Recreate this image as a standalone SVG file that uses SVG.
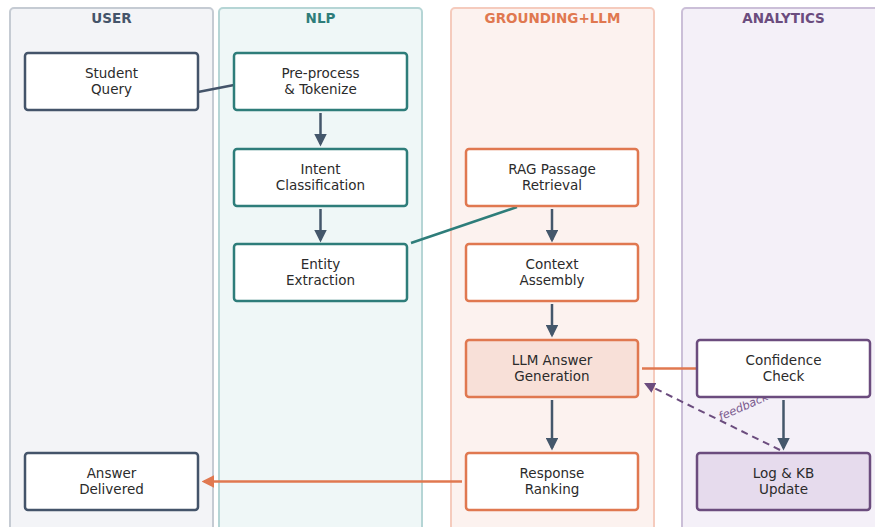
<svg xmlns="http://www.w3.org/2000/svg" width="875" height="527" viewBox="0 0 875 527">
<defs>
<style>
text{font-family:"DejaVu Sans","Liberation Sans",sans-serif;}
.hdr{font-size:13.5px;font-weight:bold;text-anchor:middle;}
.lbl{font-size:13.5px;fill:#2b2b2b;text-anchor:middle;}
.node{stroke-width:2.5;rx:3;}
.u{stroke:#44546a;fill:#fff;}
.n{stroke:#2e7d7a;fill:#fff;}
.g{stroke:#e07850;fill:#fff;}
.a{stroke:#6b4c7e;fill:#fff;}
.arr{stroke:#44576b;stroke-width:2.5;fill:none;marker-end:url(#ah);}
</style>
<marker id="ah" viewBox="0 0 10 10" refX="8" refY="5" markerWidth="5" markerHeight="5" orient="auto" markerUnits="strokeWidth"><path d="M0,0 L10,5 L0,10 z" fill="#44576b"/></marker>
<marker id="ahO" viewBox="0 0 10 10" refX="8" refY="5" markerWidth="5" markerHeight="5" orient="auto" markerUnits="strokeWidth"><path d="M0,0 L10,5 L0,10 z" fill="#e07850"/></marker>
<marker id="ahP" viewBox="0 0 10 10" refX="8" refY="5" markerWidth="5.5" markerHeight="5.5" orient="auto" markerUnits="strokeWidth"><path d="M0,0 L10,5 L0,10 z" fill="#6b4c7e"/></marker>
</defs>
<rect width="875" height="527" fill="#fff"/>
<g id="lanes">
<rect x="10" y="8" width="203" height="530" rx="4" fill="#f3f4f7" stroke="#c5cbd3" stroke-width="2"/>
<text class="hdr" x="111.5" y="23" fill="#44546a">USER</text>
<rect x="219" y="8" width="203" height="530" rx="4" fill="#eff7f7" stroke="#b5d5d5" stroke-width="2"/>
<text class="hdr" x="320.5" y="23" fill="#2e7d7a">NLP</text>
<rect x="451" y="8" width="203" height="530" rx="4" fill="#fcf2ef" stroke="#f5cbbd" stroke-width="2"/>
<text class="hdr" x="552.5" y="23" fill="#e07850">GROUNDING+LLM</text>
<rect x="682" y="8" width="210" height="530" rx="4" fill="#f4f0f8" stroke="#cbbfd8" stroke-width="2"/>
<text class="hdr" x="783.5" y="23" fill="#6b4c7e">ANALYTICS</text>
</g>
<g id="connectors">
<line x1="198" y1="92" x2="234" y2="85" stroke="#44546a" stroke-width="2.5"/>
<line x1="320.5" y1="113" x2="320.5" y2="144" class="arr"/>
<line x1="320.5" y1="209" x2="320.5" y2="240" class="arr"/>
<line x1="411" y1="243" x2="517" y2="207" stroke="#2e7d7a" stroke-width="2.5"/>
<line x1="552" y1="209" x2="552" y2="240" class="arr"/>
<line x1="552" y1="304" x2="552" y2="335" class="arr"/>
<line x1="552" y1="400" x2="552" y2="448" class="arr"/>
<line x1="642" y1="368.5" x2="697" y2="368.5" stroke="#e07850" stroke-width="2.5"/>
<line x1="783.5" y1="400" x2="783.5" y2="448" class="arr"/>
<line x1="462" y1="481.5" x2="204" y2="481.5" stroke="#e07850" stroke-width="2.5" marker-end="url(#ahO)"/>
<line x1="780" y1="450" x2="646" y2="384" stroke="#6b4c7e" stroke-width="2" stroke-dasharray="7,5" marker-end="url(#ahP)"/>
<text x="745" y="410" font-size="11.5" font-style="italic" fill="#7a5a8e" text-anchor="middle" transform="rotate(-24 745 410)">feedback</text>
</g>
<g id="student-query"><rect class="node u" x="25" y="53" width="173" height="57"/><text class="lbl" x="111.5" y="78">Student</text><text class="lbl" x="111.5" y="94">Query</text></g>
<g id="preprocess"><rect class="node n" x="234" y="53" width="173" height="57"/><text class="lbl" x="320.5" y="78">Pre-process</text><text class="lbl" x="320.5" y="94">&amp; Tokenize</text></g>
<g id="intent"><rect class="node n" x="234" y="149" width="173" height="57"/><text class="lbl" x="320.5" y="174">Intent</text><text class="lbl" x="320.5" y="190">Classification</text></g>
<g id="entity"><rect class="node n" x="234" y="244" width="173" height="57"/><text class="lbl" x="320.5" y="269">Entity</text><text class="lbl" x="320.5" y="285">Extraction</text></g>
<g id="rag"><rect class="node g" x="466" y="149" width="172" height="57"/><text class="lbl" x="552" y="174">RAG Passage</text><text class="lbl" x="552" y="190">Retrieval</text></g>
<g id="context"><rect class="node g" x="466" y="244" width="172" height="57"/><text class="lbl" x="552" y="269">Context</text><text class="lbl" x="552" y="285">Assembly</text></g>
<g id="llm"><rect class="node g" x="466" y="340" width="172" height="57" style="fill:#f8e0d8"/><text class="lbl" x="552" y="365">LLM Answer</text><text class="lbl" x="552" y="381">Generation</text></g>
<g id="ranking"><rect class="node g" x="466" y="453" width="172" height="57"/><text class="lbl" x="552" y="478">Response</text><text class="lbl" x="552" y="494">Ranking</text></g>
<g id="confidence"><rect class="node a" x="697" y="340" width="173" height="57"/><text class="lbl" x="783.5" y="365">Confidence</text><text class="lbl" x="783.5" y="381">Check</text></g>
<g id="log"><rect class="node a" x="697" y="453" width="173" height="57" style="fill:#e6dbed"/><text class="lbl" x="783.5" y="478">Log &amp; KB</text><text class="lbl" x="783.5" y="494">Update</text></g>
<g id="answer"><rect class="node u" x="25" y="453" width="173" height="57"/><text class="lbl" x="111.5" y="478">Answer</text><text class="lbl" x="111.5" y="494">Delivered</text></g>
</svg>
